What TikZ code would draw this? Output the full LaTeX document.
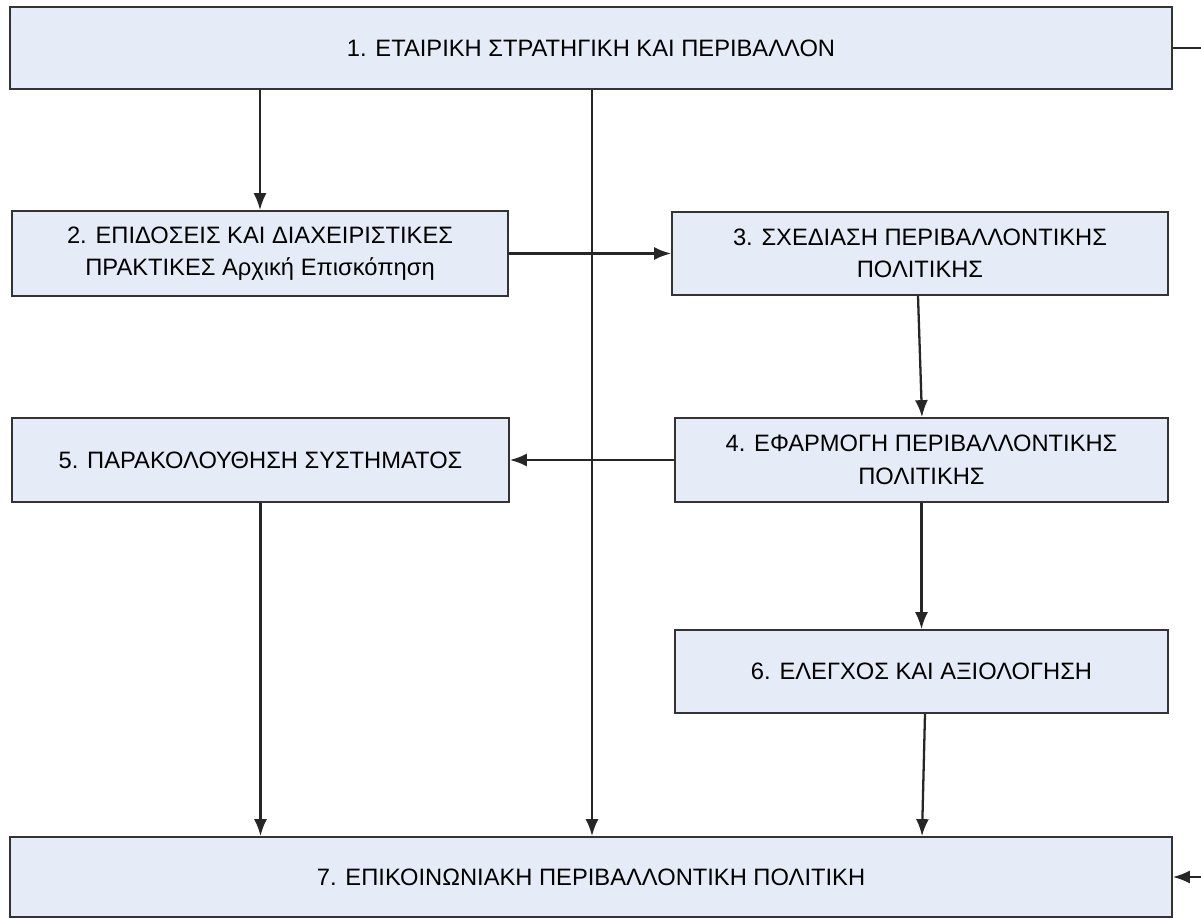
\documentclass[tikz,border=0pt]{standalone}
\usepackage{fontspec}
\setmainfont{Liberation Sans}
\usetikzlibrary{arrows.meta,shadows}
\definecolor{boxfill}{RGB}{230,236,247}

\begin{document}
\begin{tikzpicture}[x=0.02cm,y=-0.02cm,
    stage/.style={draw=black!80,line width=1pt,fill=boxfill,align=center,
        inner sep=0pt,font=\fontsize{13.5}{18.5}\selectfont,
        drop shadow={shadow xshift=0.7pt,shadow yshift=-0.7pt,fill=black!45,opacity=1}},
    flow/.style={draw=black!85,line width=1.3pt,-{Latex[length=3.4mm,width=2.6mm]}}]
    \clip (0,0) rectangle (1201,919);
    \fill[white] (0,0) rectangle (1201,919);
    \node[stage,minimum width=23.24cm,minimum height=1.64cm] (strategy) at (591,48)
        {1. ΕΤΑΙΡΙΚΗ ΣΤΡΑΤΗΓΙΚΗ ΚΑΙ ΠΕΡΙΒΑΛΛΟΝ};
    \node[stage,minimum width=9.92cm,minimum height=1.7cm] (review) at (260,253.5)
        {2. ΕΠΙΔΟΣΕΙΣ ΚΑΙ ΔΙΑΧΕΙΡΙΣΤΙΚΕΣ\\ΠΡΑΚΤΙΚΕΣ Αρχική Επισκόπηση};
    \node[stage,minimum width=9.92cm,minimum height=1.66cm] (design) at (920,253.5)
        {3. ΣΧΕΔΙΑΣΗ ΠΕΡΙΒΑΛΛΟΝΤΙΚΗΣ\\ΠΟΛΙΤΙΚΗΣ};
    \node[stage,minimum width=9.86cm,minimum height=1.68cm] (apply) at (921.5,460)
        {4. ΕΦΑΡΜΟΓΗ ΠΕΡΙΒΑΛΛΟΝΤΙΚΗΣ\\ΠΟΛΙΤΙΚΗΣ};
    \node[stage,minimum width=9.94cm,minimum height=1.68cm] (monitor) at (260.5,460)
        {5. ΠΑΡΑΚΟΛΟΥΘΗΣΗ ΣΥΣΤΗΜΑΤΟΣ};
    \node[stage,minimum width=9.86cm,minimum height=1.66cm] (audit) at (921.5,671.5)
        {6. ΕΛΕΓΧΟΣ ΚΑΙ ΑΞΙΟΛΟΓΗΣΗ};
    \node[stage,minimum width=23.24cm,minimum height=1.6cm] (communicate) at (591,877)
        {7. ΕΠΙΚΟΙΝΩΝΙΑΚΗ ΠΕΡΙΒΑΛΛΟΝΤΙΚΗ ΠΟΛΙΤΙΚΗ};

    \draw[flow] (strategy.south -| review) -- (review);
    \draw[flow] (strategy.south -| 592,0) -- (communicate.north -| 592,0);
    \draw[flow] (review) -- (design);
    \draw[flow] (design.south -| 918,0) -- (apply.north -| 922,0);
    \draw[flow] (apply) -- (monitor);
    \draw[flow] (apply) -- (audit);
    \draw[flow] (monitor) -- (communicate.north -| monitor);
    \draw[flow] (audit.south -| 925,0) -- (communicate.north -| 922,0);
    \draw[flow] (strategy.east) -- ++(60,0) |- (communicate.east);
\end{tikzpicture}
\end{document}
